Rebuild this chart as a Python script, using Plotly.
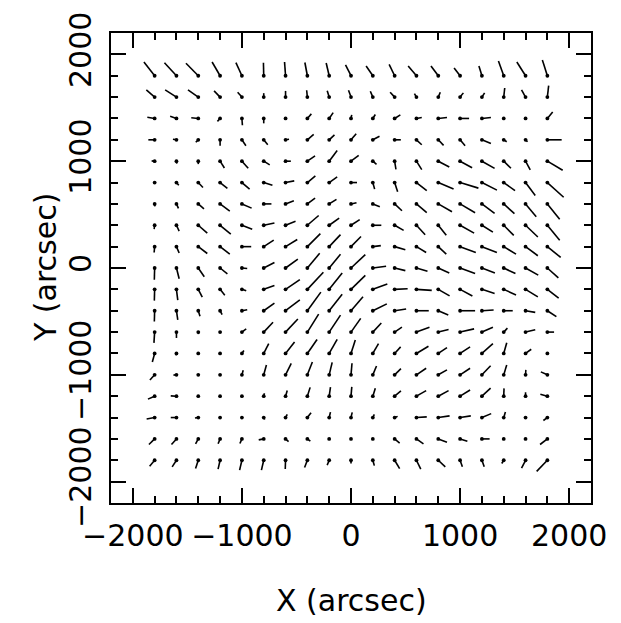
import plotly.graph_objects as go

# grid positions (arcsec)
X_GRID = [-1800, -1600, -1400, -1200, -1000, -800, -600, -400, -200, 0,
          200, 400, 600, 800, 1000, 1200, 1400, 1600, 1800]
Y_GRID = [1800, 1600, 1400, 1200, 1000, 800, 600, 400, 200, 0,
          -200, -400, -600, -800, -1000, -1200, -1400, -1600, -1800]

# vector components (one row per Y_GRID entry), in units of ~9.17 arcsec
U = [
    [-10.7, -12, -12.3, -8, -6, -0.3, -1, -2.5, -3, -5.5, -6.7, -5.5, -8.3, -7.3, -6, -3, -5.3, -8.7, -5],
    [-8.3, -11.3, -10.3, -6, -4.3, 0, 0, -0.7, -2, -2.5, -2.5, -4.5, -2, 2, 3.3, 2.7, 1, -4, 1.3],
    [-7.3, -6.3, -7, -2.7, 0.5, 0, 0.3, 4, 4, 0.7, 2.5, 5.7, 5.3, 8.7, 9, 9, 1.3, 0.5, 5.3],
    [-6.3, -3.5, -2.5, 0, 4, 4, 3.5, 6.3, 5.3, 5.2, 6.7, 6.2, 5.3, 5.3, 5, 9, 3, 2, 14.3],
    [-3, 0.3, 0, 4.3, 6.3, 6, 5.3, 7.7, 8, 7.7, 3.7, 1.3, 5.3, 11, 12, 12.7, 7.2, 4.7, 15.3],
    [0.5, 2.3, 4.7, 7.3, 7.7, 8.7, 8.7, 8, 8, 6, 1.8, 3, 10.3, 15.3, 18.3, 15, 11.3, 9.7, 16.3],
    [0.3, 2, 5.7, 9.7, 9.7, 7.7, 8.3, 7.7, 7.3, 5.5, 7, 7.3, 10.3, 13.7, 15, 12.7, 10.7, 10.7, 12.3],
    [-0.5, 2.7, 9, 10.7, 10.3, 10.7, 10, 11.3, 10, 8.7, 8.5, 9, 8.7, 8, 14, 11, 10, 12.3, 12.3],
    [-0.5, 2.7, 9, 9.7, 9.3, 10, 11.7, 13, 11.3, 10, 8, 10.7, 9.7, 8, 15.7, 15, 12.3, 12.3, 13.3],
    [-0.3, 2.7, 6, 7.3, 5.3, 10.7, 12.3, 12.3, 11.3, 14.3, 13.3, 10.7, 11, 11, 15, 13, 11.7, 12.7, 11],
    [-0.3, 1.3, 4, 4.7, 4.3, 10.7, 14.3, 16, 13, 14.3, 14.5, 13, 15.3, 11.3, 12.3, 12.7, 12.3, 12.3, 11.3],
    [-0.3, 1.3, 1.7, 2, 5.3, 10.7, 14.3, 13.5, 13, 12, 14, 11.5, 12.3, 10, 15, 11.7, 9, 9.7, 9],
    [-0.7, 0, 0.3, 0.3, 4.3, 9.3, 12.3, 11.3, 11.3, 9.7, 8.5, 7.3, 13, 10.3, 14, 11, 3.7, 9.7, 6.7],
    [-2.3, -0.5, 0.2, 0.3, 2, 5, 9, 9.7, 8, 4.3, 5.7, 6, 12, 8.7, 10, 11, 3, 5.7, 0.5],
    [-4.7, -3, 0.2, 0.2, 1.3, 2.7, 5.7, 5, 3, 1, 3.7, 6.3, 9.7, 8.7, 10, 8.7, 3, 0.3, -6.5],
    [-6.7, -5.7, 0.2, 0.2, 0.3, 0.7, 1.7, 2.8, 1.3, 0.8, 2.5, 6.3, 9.7, 10.3, 10, 8.7, 0.3, 0, -7],
    [-8, -5.7, -3.3, 0.2, 0.2, 1, 1.7, 3.7, 1.3, 1.2, 1.5, 3, 10.3, 11.3, 10.7, 9.3, 1.7, 0.3, -4],
    [-5.7, -5, -2.7, -2, -2, -5, 3, 3, 0.3, 0.3, 0.3, 5, 7, 8.7, 7.3, 7.7, 0.5, 0.3, -7.3],
    [-5, -4.3, -2.7, -2, -2.3, -2.3, -0.3, -2.8, -2, 0, 1.5, 5, 4.3, 7, 2.3, 2.3, -2, -4, -10.7],
]
V = [
    [14, 13.3, 12.7, 14, 13.3, 13.3, 14, 13.5, 13, 11, 10, 11.5, 10, 10, 8, 10, 15, 14, 16],
    [7.3, 7.3, 7.3, 6.3, 5, 4, 6.3, 7, 6.5, 7, 6, 5, 3.5, 5, 4.3, 4.3, 9.3, 7.3, 11.7],
    [1.3, 2.3, 0.7, -3, -7, -5, 0.3, 4.7, 6, 3.7, 4, 3.7, 1, 1, 0, 1, 0.3, 0.3, 6.7],
    [0, 0.5, -2.5, -6, -6, -5, 0.5, 5.5, 5, 6.2, 3.7, 0, -5, -5.7, -6, -3.7, -2, -2, 0],
    [0.3, -2.5, -3, -7, -7.3, -3.7, 0, 5.5, 11, 6, -3.2, -8.3, -8.7, -6, -6.7, -7.3, -7.2, -8.8, -9.3],
    [0, -2.7, -5, -6, -6.7, -2.7, 1.7, 6.7, 5.7, 0, -6.7, -9.3, -8.3, -6.7, -5.7, -7.7, -8.3, -13.3, -15],
    [-2.5, -4.5, -5, -7.3, -4.3, 0, 3.3, 6, 4.7, 1.2, -2.8, -7, -9, -8, -9, -9.7, -10, -13, -15.7],
    [-4, -6, -8, -9, -4, 2.3, 4, 10, 7.3, 5.8, 0, -5.2, -9.7, -10.3, -8, -7, -10.3, -12, -15.3],
    [-6, -6.5, -7, -7.7, 0, 6.7, 7.3, 13.3, 12.3, 10.3, 1, -3.2, -6, -7.7, -6, -6, -7.7, -9.3, -11],
    [-12, -11, -9, -6, -0.5, 5.7, 9, 15, 14, 13.7, 1.7, -2.7, -3.3, -5, -5.7, -5, -5.7, -7.3, -10],
    [-11.5, -11, -8, -6, -1.5, 4, 10, 17.5, 16.7, 14.3, 5.5, 0.7, -1, -6.7, -6.7, -4.3, -5.7, -7.7, -9],
    [-11, -9.3, -5.7, -4, 1, 7.7, 11, 19, 16.7, 14.2, 7, 1.7, 0, -4.3, 0, 0.7, 0, -1.7, -6],
    [-11, -6, -2, -1, 3.3, 10, 13.3, 18.3, 17.3, 14, 9.3, 5, 5, 2.7, 3.3, 5, 4, 2.3, 0],
    [-8.7, -2, 0.2, 0.5, 3, 10, 11.7, 14.3, 14.3, 13.8, 10, 6.7, 7.3, 6, 6.7, 10, 11, 4.3, 0],
    [-5.3, -0.3, 0, 0, 4.7, 10, 11.7, 13, 12.7, 11.8, 9, 6.3, 6.7, 5, 6.7, 9.3, 10, 5, 3],
    [-3, 0.3, 0, 0, 0.5, 3, 5.7, 9, 9.3, 9.5, 8, 5.3, 5.7, 5.7, 6.3, 8.3, 8, 4, 2],
    [-1.5, 0, -0.5, 0, 0, -2, 3.3, 5, 5.5, 5.3, 3.3, 1.2, 0.7, 1.7, 1.7, 4, 5.7, 0.3, -3],
    [-5.7, -5.7, -5, -5, -4.7, -1, -2.7, -2.2, 0.3, 0.3, 0.3, -4.2, -5, -3.3, -2.3, 0, 1, 0.3, -5.7],
    [-6, -6.7, -8.3, -9, -10, -10, -9, -7.3, -5, -3.4, -5.5, -8.6, -9, -6.7, -6.7, -6.7, -3.3, -8, -11.3],
]
VEC_SCALE = 9.17  # arcsec per vector unit

AX_RANGE = [-2200, 2200]
X_TICKS = [-2000, -1000, 0, 1000, 2000]
Y_TICKS = [-2000, -1000, 0, 1000, 2000]
X_TITLE = "X (arcsec)"
Y_TITLE = "Y (arcsec)"

seg_x, seg_y, dot_x, dot_y = [], [], [], []
for j, gy in enumerate(Y_GRID):
    for i, gx in enumerate(X_GRID):
        seg_x += [gx, gx + U[j][i] * VEC_SCALE, None]
        seg_y += [gy, gy + V[j][i] * VEC_SCALE, None]
        dot_x.append(gx)
        dot_y.append(gy)

fig = go.Figure()
fig.add_trace(go.Scatter(x=seg_x, y=seg_y, mode="lines",
                         line=dict(color="black", width=1.6),
                         hoverinfo="skip", showlegend=False))
fig.add_trace(go.Scatter(x=dot_x, y=dot_y, mode="markers",
                         marker=dict(color="black", size=3.8),
                         hoverinfo="skip", showlegend=False))

FONT = "DejaVu Sans, Arial, sans-serif"
FSIZE = 30
axis_common = dict(
    range=AX_RANGE, showgrid=False, zeroline=False,
    showline=True, linecolor="black", linewidth=2, mirror="allticks",
    ticks="inside", ticklen=15, tickwidth=1.5, tickcolor="black",
    minor=dict(dtick=200, ticks="inside", ticklen=7, tickwidth=1.5, tickcolor="black"),
    tickfont=dict(family=FONT, size=FSIZE, color="black"),
    ticklabeloverflow="allow",
)

fig.update_layout(
    width=621, height=623,
    margin=dict(l=111, r=30, t=24, b=120),
    paper_bgcolor="white", plot_bgcolor="white",
    xaxis=dict(**axis_common, tickvals=X_TICKS, ticklabelstandoff=5),
    yaxis=dict(**axis_common, tickvals=Y_TICKS, tickangle=-90, ticklabelstandoff=6),
    annotations=[
        dict(text=X_TITLE, xref="paper", yref="paper", x=0.5, y=0,
             xanchor="center", yanchor="middle", yshift=-97, showarrow=False,
             font=dict(family=FONT, size=FSIZE, color="black")),
        dict(text=Y_TITLE, xref="paper", yref="paper", x=0, y=0.5,
             xanchor="center", yanchor="middle", xshift=-66, textangle=-90,
             showarrow=False, font=dict(family=FONT, size=FSIZE, color="black")),
    ],
)

fig.write_html("out.html", config={"displayModeBar": False},
               post_script="document.body.style.margin='0px';")
